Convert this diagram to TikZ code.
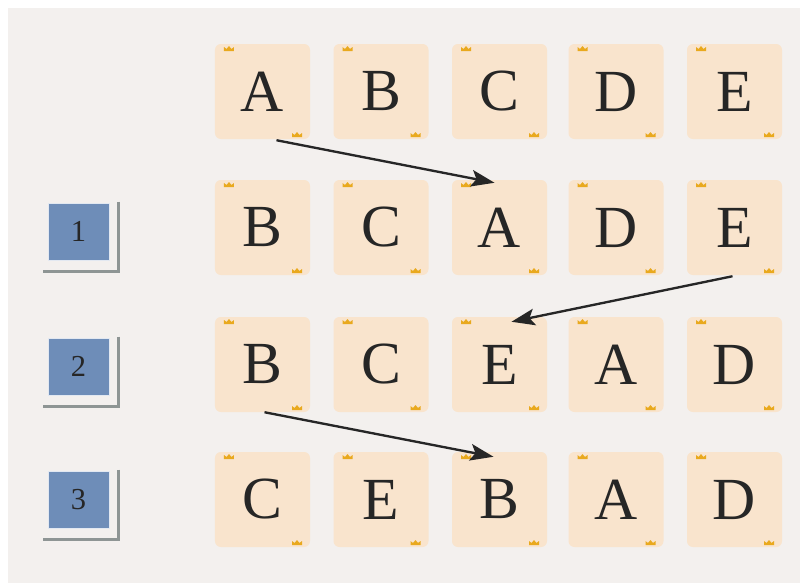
\documentclass[tikz,border=0pt]{standalone}
\usepackage{fontspec}
\setmainfont{Liberation Serif}
\usetikzlibrary{arrows.meta,positioning,calc}
\definecolor{paper}{HTML}{F3F0EE}
\definecolor{tilepeach}{HTML}{F9E4CD}
\definecolor{crowngold}{HTML}{E9A91E}
\definecolor{stepblue}{HTML}{6E8DB8}
\definecolor{shadowgrey}{HTML}{8E9594}
\definecolor{inkdark}{HTML}{262626}
% little crown mark on the tiles
\newcommand{\tilecrown}[1]{\fill[crowngold, sharp corners] #1 ++(-5,0) -- ++(0,-4) -- ++(2.5,2) -- ++(2.5,-3) -- ++(2.5,3) -- ++(2.5,-2) -- ++(0,4) -- cycle;}

\begin{document}
\begin{tikzpicture}[
  x=0.03cm, y=-0.03cm,
  tile/.style={fill=tilepeach, rounded corners=5pt, inner sep=0pt,
    minimum width=2.85cm, minimum height=2.85cm,
    font=\fontsize{51}{51}\selectfont, text=inkdark,
    path picture={
      \tilecrown{($(path picture bounding box.north west)+(14,7)$)}
      \tilecrown{($(path picture bounding box.south east)+(-13,-2)$)}
    }},
  numbox/.style={fill=stepblue, draw=white!80!stepblue, line width=0.8pt, inner sep=0pt,
    minimum width=1.83cm, minimum height=1.71cm,
    font=\fontsize{26}{26}\selectfont, text=inkdark},
  shadowline/.style={shadowgrey, line width=2.2pt},
  move/.style={-{Stealth[length=7mm, width=5mm, inset=1.5mm]}, line width=2pt, inkdark}
]

\useasboundingbox (0,0) rectangle (800,583);
\fill[white] (0,0) rectangle (800,583);
\fill[paper] (8,8) rectangle (800,583);

% start row
\node[tile] (r0c1) at (262.5,91.5) {A};
\node[tile] (r0c2) at (381,91.5) {B};
\node[tile] (r0c3) at (499.5,91.5) {C};
\node[tile] (r0c4) at (616,91.5) {D};
\node[tile] (r0c5) at (734.5,91.5) {E};

% step 1
\node[numbox] (num1) at (78.5,231.5) {1};
\node[tile] (r1c1) at (262.5,227.5) {B};
\node[tile] (r1c2) at (381,227.5) {C};
\node[tile] (r1c3) at (499.5,227.5) {A};
\node[tile] (r1c4) at (616,227.5) {D};
\node[tile] (r1c5) at (734.5,227.5) {E};

% step 2
\node[numbox] (num2) at (78.5,366.5) {2};
\node[tile] (r2c1) at (262.5,364.5) {B};
\node[tile] (r2c2) at (381,364.5) {C};
\node[tile] (r2c3) at (499.5,364.5) {E};
\node[tile] (r2c4) at (616,364.5) {A};
\node[tile] (r2c5) at (734.5,364.5) {D};

% step 3
\node[numbox] (num3) at (78.5,499.5) {3};
\node[tile] (r3c1) at (262.5,499.5) {C};
\node[tile] (r3c2) at (381,499.5) {E};
\node[tile] (r3c3) at (499.5,499.5) {B};
\node[tile] (r3c4) at (616,499.5) {A};
\node[tile] (r3c5) at (734.5,499.5) {D};

% shadows of the step boxes
\draw[shadowline] ($(num1.north east)+(9,-1)$) |- ($(num1.south west)+(-5,11)$);
\draw[shadowline] ($(num2.north east)+(9,-1)$) |- ($(num2.south west)+(-5,11)$);
\draw[shadowline] ($(num3.north east)+(9,-1)$) |- ($(num3.south west)+(-5,11)$);

% insertions
\draw[move] ($(r0c1.south)+(14,1)$) -- ($(r1c3.north)+(-5,3)$);
\draw[move] ($(r1c5.south)+(-2,1)$) -- ($(r2c3.north)+(12,5)$);
\draw[move] ($(r2c1.south)+(2,0)$) -- ($(r3c3.north)+(-6,5)$);

\end{tikzpicture}
\end{document}
